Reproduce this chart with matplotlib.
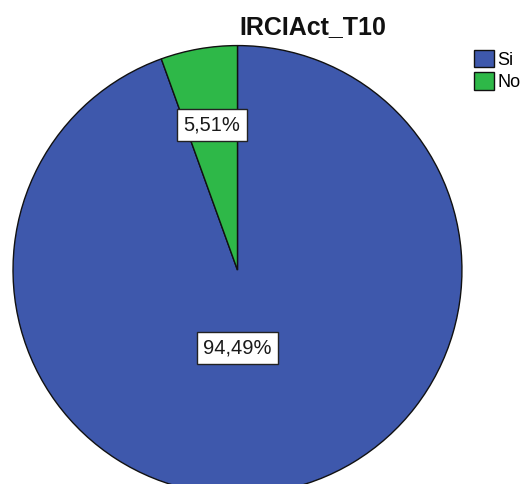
import numpy as np
import matplotlib.pyplot as plt

plt.rcParams['font.family'] = ['Liberation Sans', 'DejaVu Sans']

# Datos
categorias = ['Si', 'No']
porcentajes = [94.49, 5.51]
colores = ['#3E58AC', '#2EB848']
titulo = 'IRCIAct_T10'

fig = plt.figure(figsize=(5.23, 4.84), dpi=100)
ax = fig.add_axes([0, 0, 1, 1])

wedges, _ = ax.pie(porcentajes, colors=colores, startangle=90, counterclock=False,
                   radius=1.0, wedgeprops=dict(edgecolor='#111111', linewidth=1.0))

# Etiquetas de porcentaje con caja blanca (SPSS coloca la grande casi vertical)
distancias = [0.347, 0.655]
angulos = [-90.0, None]
for w, p, d, a in zip(wedges, porcentajes, distancias, angulos):
    ang = np.deg2rad(a if a is not None else (w.theta1 + w.theta2) / 2)
    ax.text(d * np.cos(ang), d * np.sin(ang), f'{p:.2f}%'.replace('.', ','),
            ha='center', va='center', fontsize=14.5, color='#1a1a1a',
            bbox=dict(boxstyle='square,pad=0.32', fc='white', ec='#222222', lw=1))

ax.set_xlim(-1.058, 1.272)
ax.set_ylim(-0.953, 1.203)
ax.set_aspect('auto')
ax.axis('off')

fig.text(313 / 523, 1 - 27 / 484, titulo, ha='center', va='center',
         fontsize=18, fontweight='bold', color='#111111')

leg = ax.legend(wedges, categorias, loc='upper left', bbox_to_anchor=(474 / 523, 1 - 50 / 484),
                frameon=False, fontsize=13, handlelength=1.1, handleheight=1.1,
                handletextpad=0.2, labelspacing=0.2, borderaxespad=0, borderpad=0)

fig.savefig('out.png', dpi=100)
